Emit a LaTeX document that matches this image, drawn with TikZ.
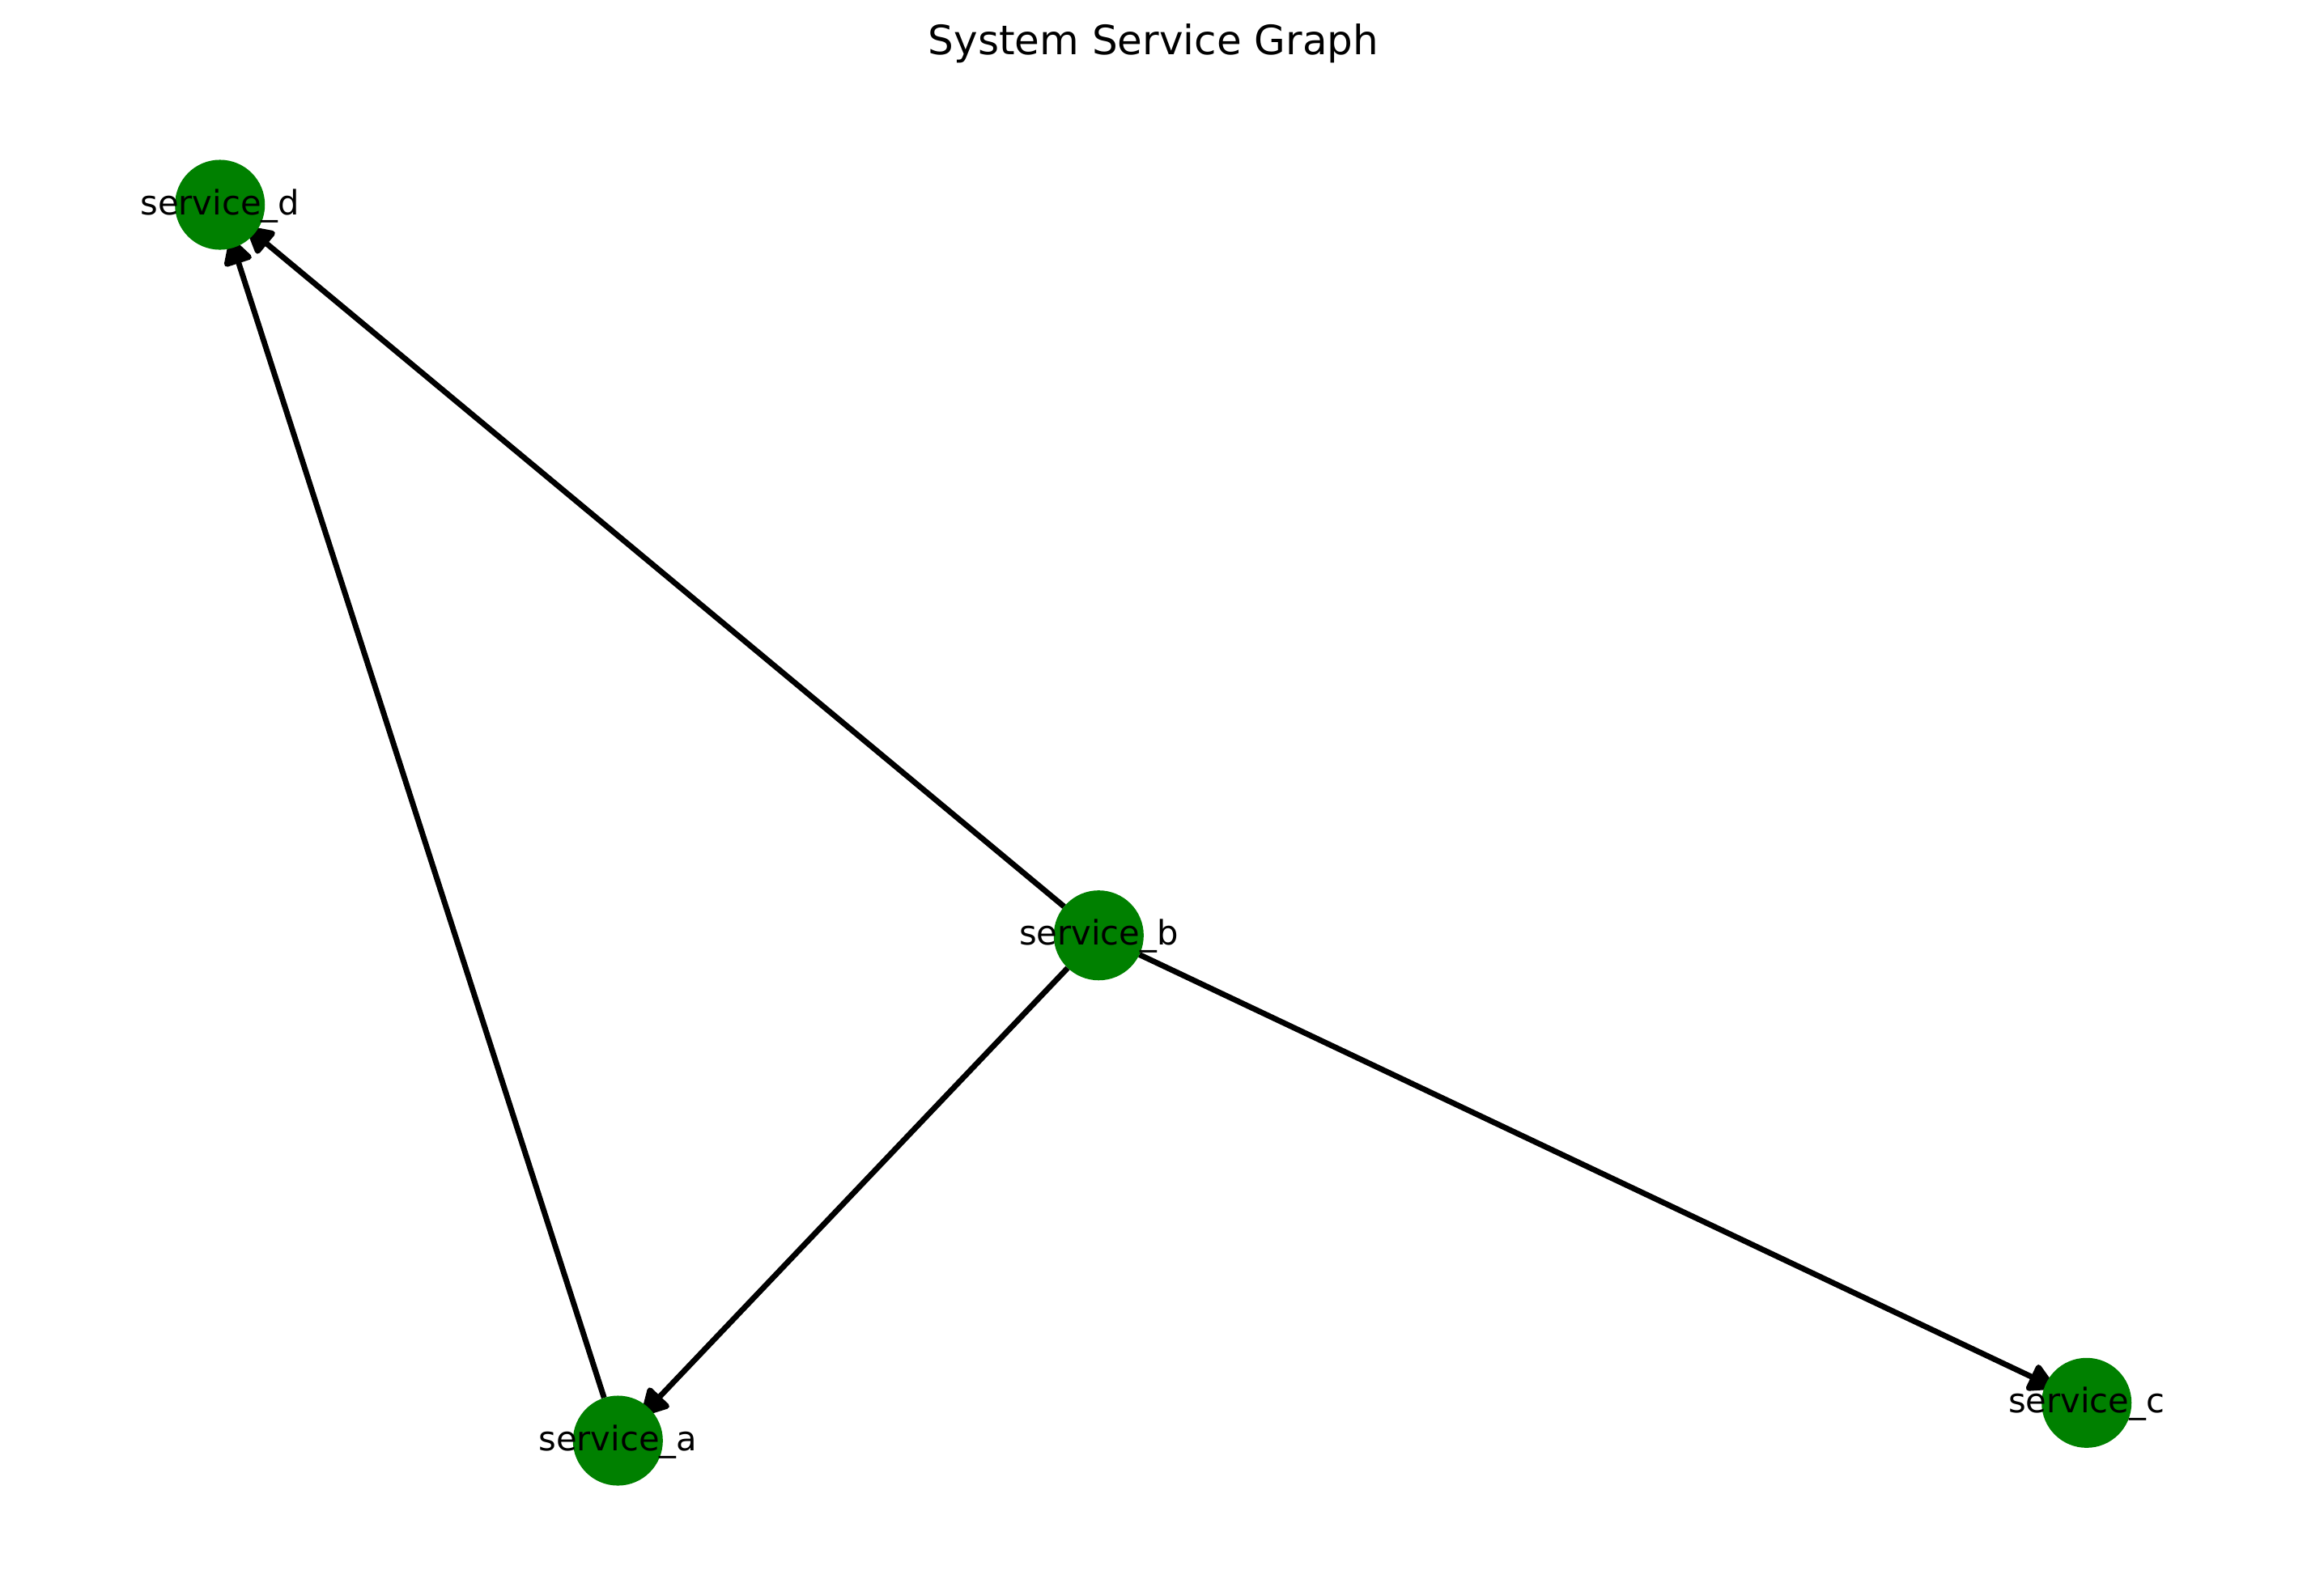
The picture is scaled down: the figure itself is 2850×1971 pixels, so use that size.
\documentclass[tikz,border=0pt]{standalone}
\usepackage{fontspec}
\setmainfont{DejaVu Sans}
\usetikzlibrary{arrows.meta}
\pgfdeclarelayer{bg}
\pgfsetlayers{bg,main}
\definecolor{nodegreen}{RGB}{0,128,0}
\tikzset{
  svc/.style={circle, fill=nodegreen, minimum size=32pt, inner sep=0pt, outer sep=0pt},
  lbl/.style={anchor=base, inner sep=0pt, font=\fontsize{12}{14}\selectfont},
  edge/.style={line width=2pt, -{Triangle[length=10.5pt,width=11pt,round]}, shorten >=-3.5pt}
}
\begin{document}
\begin{tikzpicture}[x=0.288pt, y=-0.288pt]
\useasboundingbox (0,0) rectangle (2850,1971);
\node[anchor=base, inner sep=0pt, font=\fontsize{14.4}{17}\selectfont] (title) at (1425,67.7) {System Service Graph};
\node[svc] (a) at (763.3,1780) {};
\node[svc] (b) at (1357.3,1155.7) {};
\node[svc] (c) at (2577.7,1733.3) {};
\node[svc] (d) at (271.7,253) {};
\begin{pgfonlayer}{bg}
\fill[white] (0,0) rectangle (2850,1971);
\draw[edge] (b) -- (d);
\draw[edge] (a) -- (d);
\draw[edge] (b) -- (a);
\draw[edge] (b) -- (c);
\end{pgfonlayer}
\node[lbl] (la) at (763.3,1792) {service\_a};
\node[lbl] (lb) at (1357.3,1167.7) {service\_b};
\node[lbl] (lc) at (2577.7,1745.3) {service\_c};
\node[lbl] (ld) at (271.7,265) {service\_d};
\end{tikzpicture}
\end{document}
